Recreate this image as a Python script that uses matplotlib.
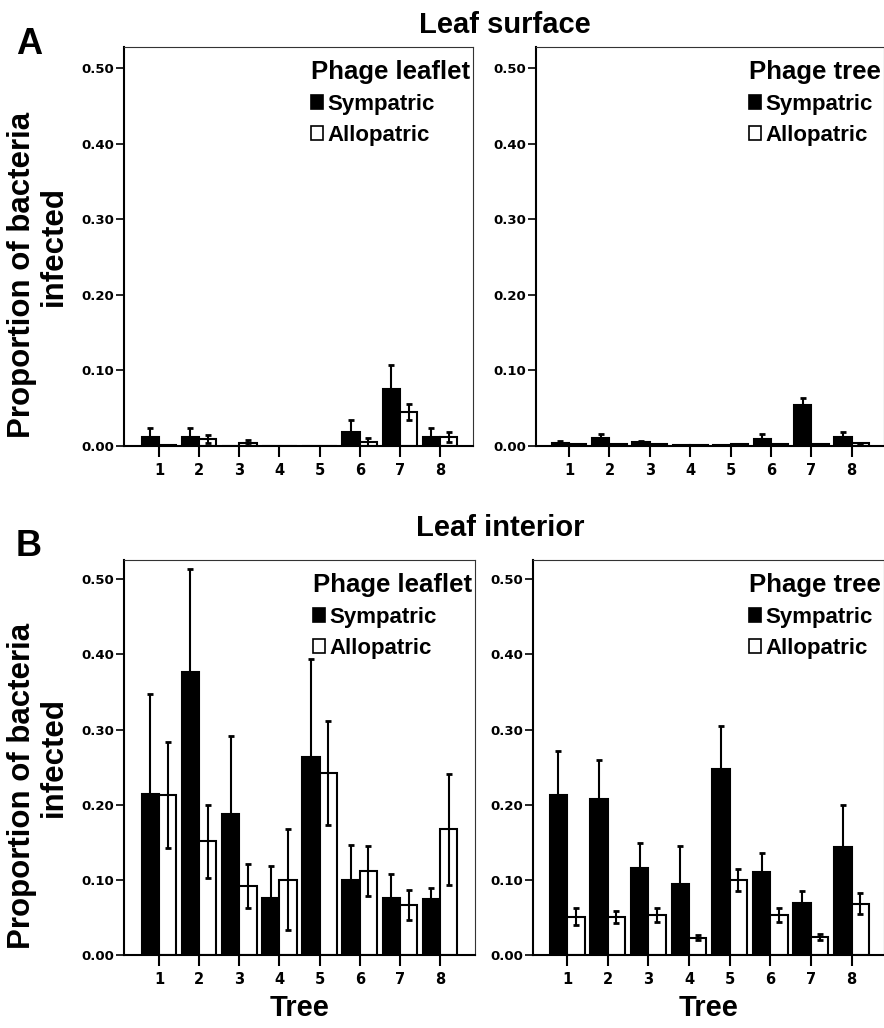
import matplotlib
matplotlib.use("Agg")
import matplotlib.pyplot as plt
from matplotlib.patches import Patch
import numpy as np

trees = [1, 2, 3, 4, 5, 6, 7, 8]
tree_labels = ["1", "2", "3", "4", "5", "6", "7", "8"]

# A: Leaf surface
surf_leaflet_sym = [0.012, 0.012, 0.000, 0.000, 0.000, 0.018, 0.075, 0.012]
surf_leaflet_sym_err = [0.012, 0.012, 0.000, 0.000, 0.000, 0.017, 0.032, 0.012]
surf_leaflet_allo = [0.001, 0.009, 0.0045, 0.000, 0.000, 0.0055, 0.045, 0.012]
surf_leaflet_allo_err = [0.000, 0.005, 0.0035, 0.000, 0.000, 0.0055, 0.011, 0.007]

surf_tree_sym = [0.0045, 0.0105, 0.005, 0.001, 0.001, 0.0095, 0.054, 0.0125]
surf_tree_sym_err = [0.0025, 0.005, 0.002, 0.000, 0.000, 0.006, 0.010, 0.0055]
surf_tree_allo = [0.003, 0.003, 0.002, 0.001, 0.002, 0.0025, 0.003, 0.0045]
surf_tree_allo_err = [0.000, 0.000, 0.000, 0.000, 0.000, 0.000, 0.000, 0.000]

# B: Leaf interior
int_leaflet_sym = [0.214, 0.376, 0.188, 0.076, 0.263, 0.100, 0.076, 0.075]
int_leaflet_sym_err = [0.133, 0.137, 0.104, 0.043, 0.131, 0.046, 0.032, 0.014]
int_leaflet_allo = [0.213, 0.151, 0.092, 0.100, 0.242, 0.112, 0.067, 0.167]
int_leaflet_allo_err = [0.070, 0.049, 0.029, 0.067, 0.069, 0.033, 0.020, 0.074]

int_tree_sym = [0.213, 0.207, 0.116, 0.095, 0.247, 0.110, 0.069, 0.144]
int_tree_sym_err = [0.059, 0.053, 0.033, 0.050, 0.058, 0.026, 0.016, 0.055]
int_tree_allo = [0.051, 0.050, 0.053, 0.023, 0.100, 0.053, 0.024, 0.068]
int_tree_allo_err = [0.011, 0.008, 0.009, 0.003, 0.015, 0.009, 0.004, 0.014]

W, H = 884, 1028
fig = plt.figure(figsize=(W / 100, H / 100), dpi=100)

def px_axes(left, right, top, bottom):
    ax = fig.add_axes([left / W, 1 - bottom / H, (right - left) / W, (bottom - top) / H])
    ax._px = (right - left, bottom - top)
    return ax

BW = 0.43
ytick_font = dict(family="DejaVu Sans", weight="bold", size=9.5)
xtick_font = dict(family="DejaVu Sans", weight="bold", size=10.5)

def panel(ax, sym, sym_err, allo, allo_err, legend_title, xlim, ymax, xlabel=False):
    x = np.array(trees, dtype=float)
    ax.bar(x - BW / 2, sym, width=BW, color="black", edgecolor="black", linewidth=1.5, zorder=2)
    ax.bar(x + BW / 2, allo, width=BW, color="white", edgecolor="black", linewidth=1.5, zorder=2)
    ax.errorbar(x - BW / 2, sym, yerr=sym_err, fmt="none", ecolor="black",
                elinewidth=1.5, capsize=2.5, capthick=2, zorder=3)
    ax.errorbar(x + BW / 2, allo, yerr=allo_err, fmt="none", ecolor="black",
                elinewidth=1.5, capsize=2.5, capthick=2, zorder=3)
    ax.set_xlim(*xlim)
    ax.set_ylim(0, ymax)
    ax.set_xticks(trees)
    ax.set_xticklabels(tree_labels, fontdict=xtick_font)
    ax.set_yticks([0, 0.1, 0.2, 0.3, 0.4, 0.5])
    ax.set_yticklabels(["0.00", "0.10", "0.20", "0.30", "0.40", "0.50"], fontdict=ytick_font)
    ax.tick_params(axis="x", direction="out", length=8, width=1.5, pad=4)
    ax.tick_params(axis="y", direction="out", length=6, width=1.2, pad=1)
    for s in ["left", "bottom"]:
        ax.spines[s].set_linewidth(1.5)
    for s in ["top", "right"]:
        ax.spines[s].set_linewidth(0.8)
        ax.spines[s].set_color("#333333")
    handles = [Patch(facecolor="black", edgecolor="black", linewidth=1.2),
               Patch(facecolor="white", edgecolor="black", linewidth=1.2)]
    wpx, hpx = ax._px
    ax.legend(handles, ["Sympatric", "Allopatric"], title=legend_title,
              loc="upper right", bbox_to_anchor=(1 - 3 / wpx, 1 - 13 / hpx),
              frameon=False, alignment="left",
              prop=dict(family="Liberation Sans", weight="bold", size=16),
              title_fontproperties=dict(family="Liberation Sans", weight="bold", size=18.5),
              handlelength=0.55, handleheight=0.55, handletextpad=0.2,
              labelspacing=0.45, borderaxespad=0.0, borderpad=0.0)
    if xlabel:
        ax.set_xlabel("Tree", family="Liberation Sans", weight="bold", size=21, labelpad=5)

axA1 = px_axes(124, 473, 47, 446)
axA2 = px_axes(536, 884, 47, 446)
axB1 = px_axes(124, 475, 560, 955)
axB2 = px_axes(533, 884, 560, 955)

panel(axA1, surf_leaflet_sym, surf_leaflet_sym_err, surf_leaflet_allo, surf_leaflet_allo_err,
      "Phage leaflet", (0.13, 8.82), 0.528)
panel(axA2, surf_tree_sym, surf_tree_sym_err, surf_tree_allo, surf_tree_allo_err,
      "Phage tree", (0.18, 8.8), 0.528)
panel(axB1, int_leaflet_sym, int_leaflet_sym_err, int_leaflet_allo, int_leaflet_allo_err,
      "Phage leaflet", (0.13, 8.87), 0.5255, xlabel=True)
panel(axB2, int_tree_sym, int_tree_sym_err, int_tree_allo, int_tree_allo_err,
      "Phage tree", (0.16, 8.8), 0.5255, xlabel=True)

ylab_lines = ["Proportion of bacteria", "infected"]
for center in (246, 757):
    fig.text(22 / W, 1 - (center + 29) / H, ylab_lines[0], rotation=90, ha="center", va="center",
             family="Liberation Sans", weight="bold", size=22.5)
    fig.text(54 / W, 1 - center / H, ylab_lines[1], rotation=90, ha="center", va="center",
             family="Liberation Sans", weight="bold", size=22.5)

fig.text(505 / W, 1 - 25 / H, "Leaf surface", ha="center", va="center",
         family="Liberation Sans", weight="bold", size=21)
fig.text(500 / W, 1 - 528 / H, "Leaf interior", ha="center", va="center",
         family="Liberation Sans", weight="bold", size=21)
fig.text(29 / W, 1 - 44 / H, "A", ha="center", va="center",
         family="Liberation Sans", weight="bold", size=26)
fig.text(29 / W, 1 - 546 / H, "B", ha="center", va="center",
         family="Liberation Sans", weight="bold", size=26)

fig.savefig("out.png", dpi=100)
